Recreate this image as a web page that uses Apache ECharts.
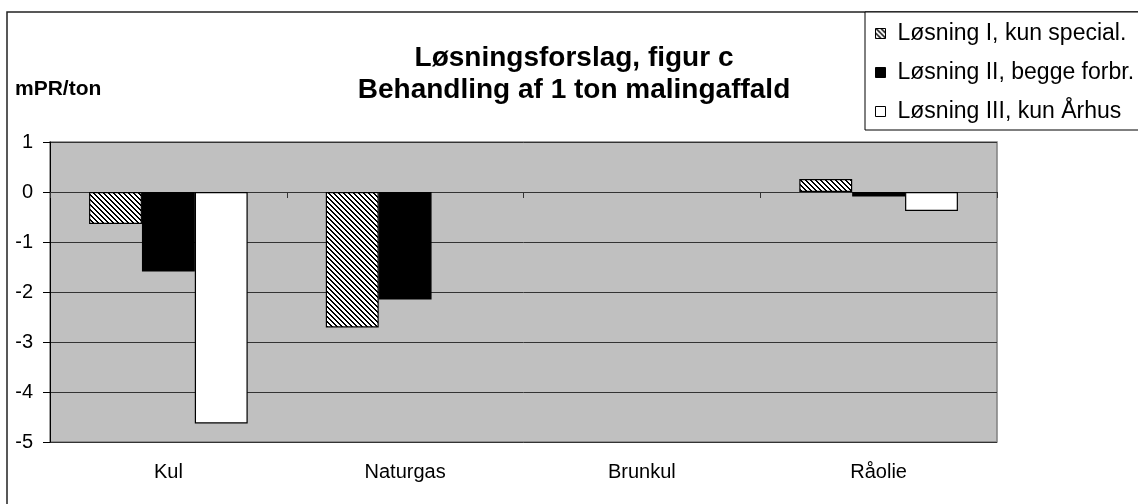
<!DOCTYPE html>
<html lang="da">
  <head>
    <meta charset="UTF-8" />
    <title>Løsningsforslag, figur c</title>
    <script src="https://cdn.jsdelivr.net/npm/echarts@6/dist/echarts.min.js"></script>
    <style>
      html, body { margin: 0; padding: 0; background: #fff; }
      #chart { width: 1138px; height: 504px; }
    </style>
  </head>
  <body>
    <div id="chart"></div>
    <script>
      // data
      const categories = ["Kul", "Naturgas", "Brunkul", "Råolie"];
      const seriesNames = [
        "Løsning I, kun special.",
        "Løsning II, begge forbr.",
        "Løsning III, kun Århus",
      ];
      const loesningI = [-0.64, -2.71, 0, 0.26];
      const loesningII = [-1.59, -2.15, 0, -0.09];
      const loesningIII = [-4.63, 0, 0, -0.38];
      const yTicks = { min: -5, max: 1, interval: 1 };

      const FONT = "Liberation Sans, Arial, sans-serif";

      // hatched fill like the excel pattern (\\\\)
      function hatch() {
        const c = document.createElement("canvas");
        c.width = 5;
        c.height = 5;
        const ctx = c.getContext("2d");
        ctx.fillStyle = "#fff";
        ctx.fillRect(0, 0, 5, 5);
        ctx.fillStyle = "#000";
        for (let y = 0; y < 5; y++) {
          for (let x = 0; x < 5; x++) {
            if ((x - y + 5) % 5 < 2) ctx.fillRect(x, y, 1, 1);
          }
        }
        return c;
      }
      const fills = [{ image: hatch(), repeat: "repeat" }, "#000000", "#ffffff"];
      const values = [loesningI, loesningII, loesningIII];

      const chart = echarts.init(document.getElementById("chart"));

      // excel draws nothing for a zero bar
      const series = values.map((v, i) => ({
        name: seriesNames[i],
        type: "bar",
        data: v.map((x) => (x === 0 ? null : x)),
        xAxisIndex: 0,
        barGap: "0%",
        barCategoryGap: "33%",
        itemStyle: { color: fills[i], borderColor: "#000", borderWidth: 1.2 },
        emphasis: { disabled: true },
        z: 3,
      }));

      chart.setOption({
        animation: false,
        title: [
          {
            text: "Løsningsforslag, figur c\nBehandling af 1 ton malingaffald",
            left: 569,
            top: 37,
            textAlign: "center",
            textStyle: {
              fontFamily: FONT,
              fontSize: 28,
              fontWeight: "bold",
              color: "#000",
              lineHeight: 32,
            },
          },
          {
            text: "mPR/ton",
            left: 10,
            top: 74,
            textStyle: { fontFamily: FONT, fontSize: 21, fontWeight: "bold", color: "#000" },
          },
        ],
        graphic: [
          {
            type: "rect",
            shape: { x: 7, y: 12, width: 1200, height: 600 },
            style: { fill: null, stroke: "#222", lineWidth: 1.5 },
            z: -10,
          },
          {
            type: "rect",
            shape: { x: 865, y: 12, width: 300, height: 118 },
            style: { fill: "#fff", stroke: "#000", lineWidth: 1 },
            z: -5,
          },
        ],
        legend: {
          orient: "vertical",
          left: 870,
          top: 17,
          itemWidth: 10,
          itemHeight: 10,
          itemGap: 16,
          icon: "rect",
          textStyle: { fontFamily: FONT, fontSize: 23, color: "#000", padding: [0, 0, 0, 7] },
          data: seriesNames.map((n, i) => ({
            name: n,
            itemStyle: { color: fills[i], borderColor: "#000", borderWidth: 1 },
          })),
        },
        grid: {
          left: 50,
          top: 142,
          width: 947,
          height: 300,
          show: true,
          backgroundColor: "#C0C0C0",
          borderColor: "#808080",
          borderWidth: 1.5,
        },
        xAxis: [
          {
            type: "category",
            data: categories,
            position: "bottom",
            axisLine: { show: false, onZero: false },
            axisTick: { show: false },
            axisLabel: { fontFamily: FONT, fontSize: 20, color: "#000", margin: 20 },
          },
          {
            type: "category",
            data: categories,
            position: "top",
            axisLine: { show: true, onZero: true, lineStyle: { color: "#333", width: 1 } },
            axisTick: { show: true, inside: true, length: 6, lineStyle: { color: "#333" } },
            axisLabel: { show: false },
          },
        ],
        yAxis: {
          type: "value",
          min: yTicks.min,
          max: yTicks.max,
          interval: yTicks.interval,
          axisLine: { show: true, lineStyle: { color: "#000", width: 1 } },
          axisTick: { show: true, length: 7, lineStyle: { color: "#000" } },
          axisLabel: { fontFamily: FONT, fontSize: 20, color: "#000", margin: 17 },
          splitLine: { lineStyle: { color: "#333", width: 1 } },
        },
        series: series,
      });
    </script>
  </body>
</html>
